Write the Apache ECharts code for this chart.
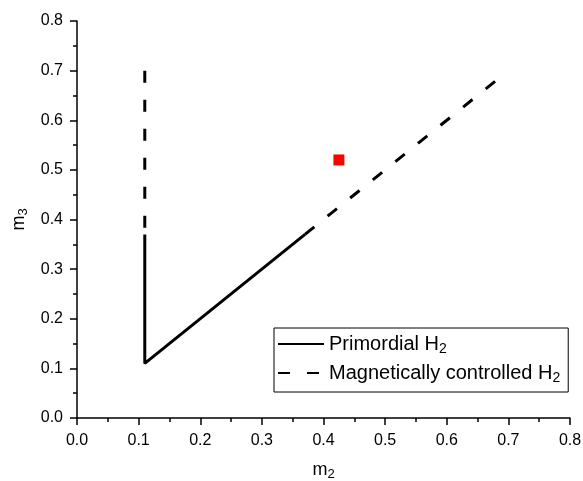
<!DOCTYPE html>
<html>
<head>
<meta charset="utf-8">
<script src="https://cdn.jsdelivr.net/npm/echarts@6/dist/echarts.min.js"></script>
<style>
  html, body { margin: 0; padding: 0; background: #fff; }
  #main { width: 583px; height: 481px; }
</style>
</head>
<body>
<div id="main"></div>
<script>
// data
var primordial = [[0.11, 0.37], [0.11, 0.11], [0.37, 0.37]];
var magneticVertical = [[0.11, 0.70], [0.11, 0.37]];
var magneticDiagonal = [[0.37, 0.37], [0.69, 0.69]];
var measured = [[0.425, 0.52]];
var legendNames = ['Primordial H2', 'Magnetically controlled H2'];

var myChart = echarts.init(document.getElementById('main'));
var font = 'Liberation Sans, Arial, sans-serif';
var subStyle = { fontSize: 13, fontFamily: font, color: '#000', padding: [9, 0, 0, 0] };

// 坐标轴公共设置
function axisCommon(nameText, gap, labelMargin) {
    return {
        type: 'value',
        min: 0,
        max: 0.8,
        interval: 0.1,
        name: nameText,
        nameLocation: 'middle',
        nameGap: gap,
        nameTextStyle: {
            rich: {
                a: { fontSize: 18, fontFamily: font, color: '#000' },
                b: subStyle
            }
        },
        axisLine: { show: true, onZero: false, lineStyle: { color: '#000', width: 1.5 } },
        axisTick: { show: true, length: 7, inside: false, lineStyle: { color: '#000', width: 1.5 } },
        minorTick: { show: true, splitNumber: 2, length: 4, lineStyle: { color: '#000', width: 1.5 } },
        splitLine: { show: false },
        axisLabel: {
            fontSize: 16,
            fontFamily: font,
            color: '#000',
            margin: labelMargin,
            formatter: function (v) { return v.toFixed(1); }
        }
    };
}

var xAxis = axisCommon('{a|m}{b|2}', 41, 15);
var yAxis = axisCommon('{a|m}{b|3}', 42, 14);

var dashed = { color: '#000', width: 3, type: [12, 17] };

var option = {
    animation: false,
    backgroundColor: '#fff',
    grid: { left: 77, right: 13, top: 21, bottom: 63, containLabel: false, outerBoundsMode: 'none' },
    legend: {
        data: legendNames,
        orient: 'vertical',
        left: 274,
        top: 328,
        width: 295,
        padding: [6, 8, 7, 3],
        itemGap: 7,
        itemWidth: 46,
        itemHeight: 14,
        borderColor: '#000',
        borderWidth: 1,
        borderRadius: 0,
        backgroundColor: '#fff',
        itemStyle: { opacity: 0 },
        formatter: function (name) {
            return '{t|' + name.slice(0, -1) + '}{s|2}';
        },
        textStyle: {
            rich: {
                t: { fontSize: 20, fontFamily: font, color: '#000' },
                s: { fontSize: 14, fontFamily: font, color: '#000', padding: [10, 0, 0, 0] }
            }
        }
    },
    xAxis: xAxis,
    yAxis: yAxis,
    series: [
        {
            name: legendNames[0],
            type: 'line',
            data: primordial,
            symbol: 'none',
            lineStyle: { color: '#000', width: 3 },
            itemStyle: { color: '#000' }
        },
        {
            name: legendNames[1],
            type: 'line',
            data: magneticVertical,
            symbol: 'none',
            lineStyle: dashed,
            itemStyle: { color: '#000' }
        },
        {
            name: legendNames[1],
            type: 'line',
            data: magneticDiagonal,
            symbol: 'none',
            lineStyle: dashed,
            itemStyle: { color: '#000' }
        },
        {
            name: 'point',
            type: 'scatter',
            data: measured,
            symbol: 'rect',
            symbolSize: 11,
            itemStyle: { color: '#ff0000', opacity: 1 }
        }
    ]
};
myChart.setOption(option);
</script>
</body>
</html>
